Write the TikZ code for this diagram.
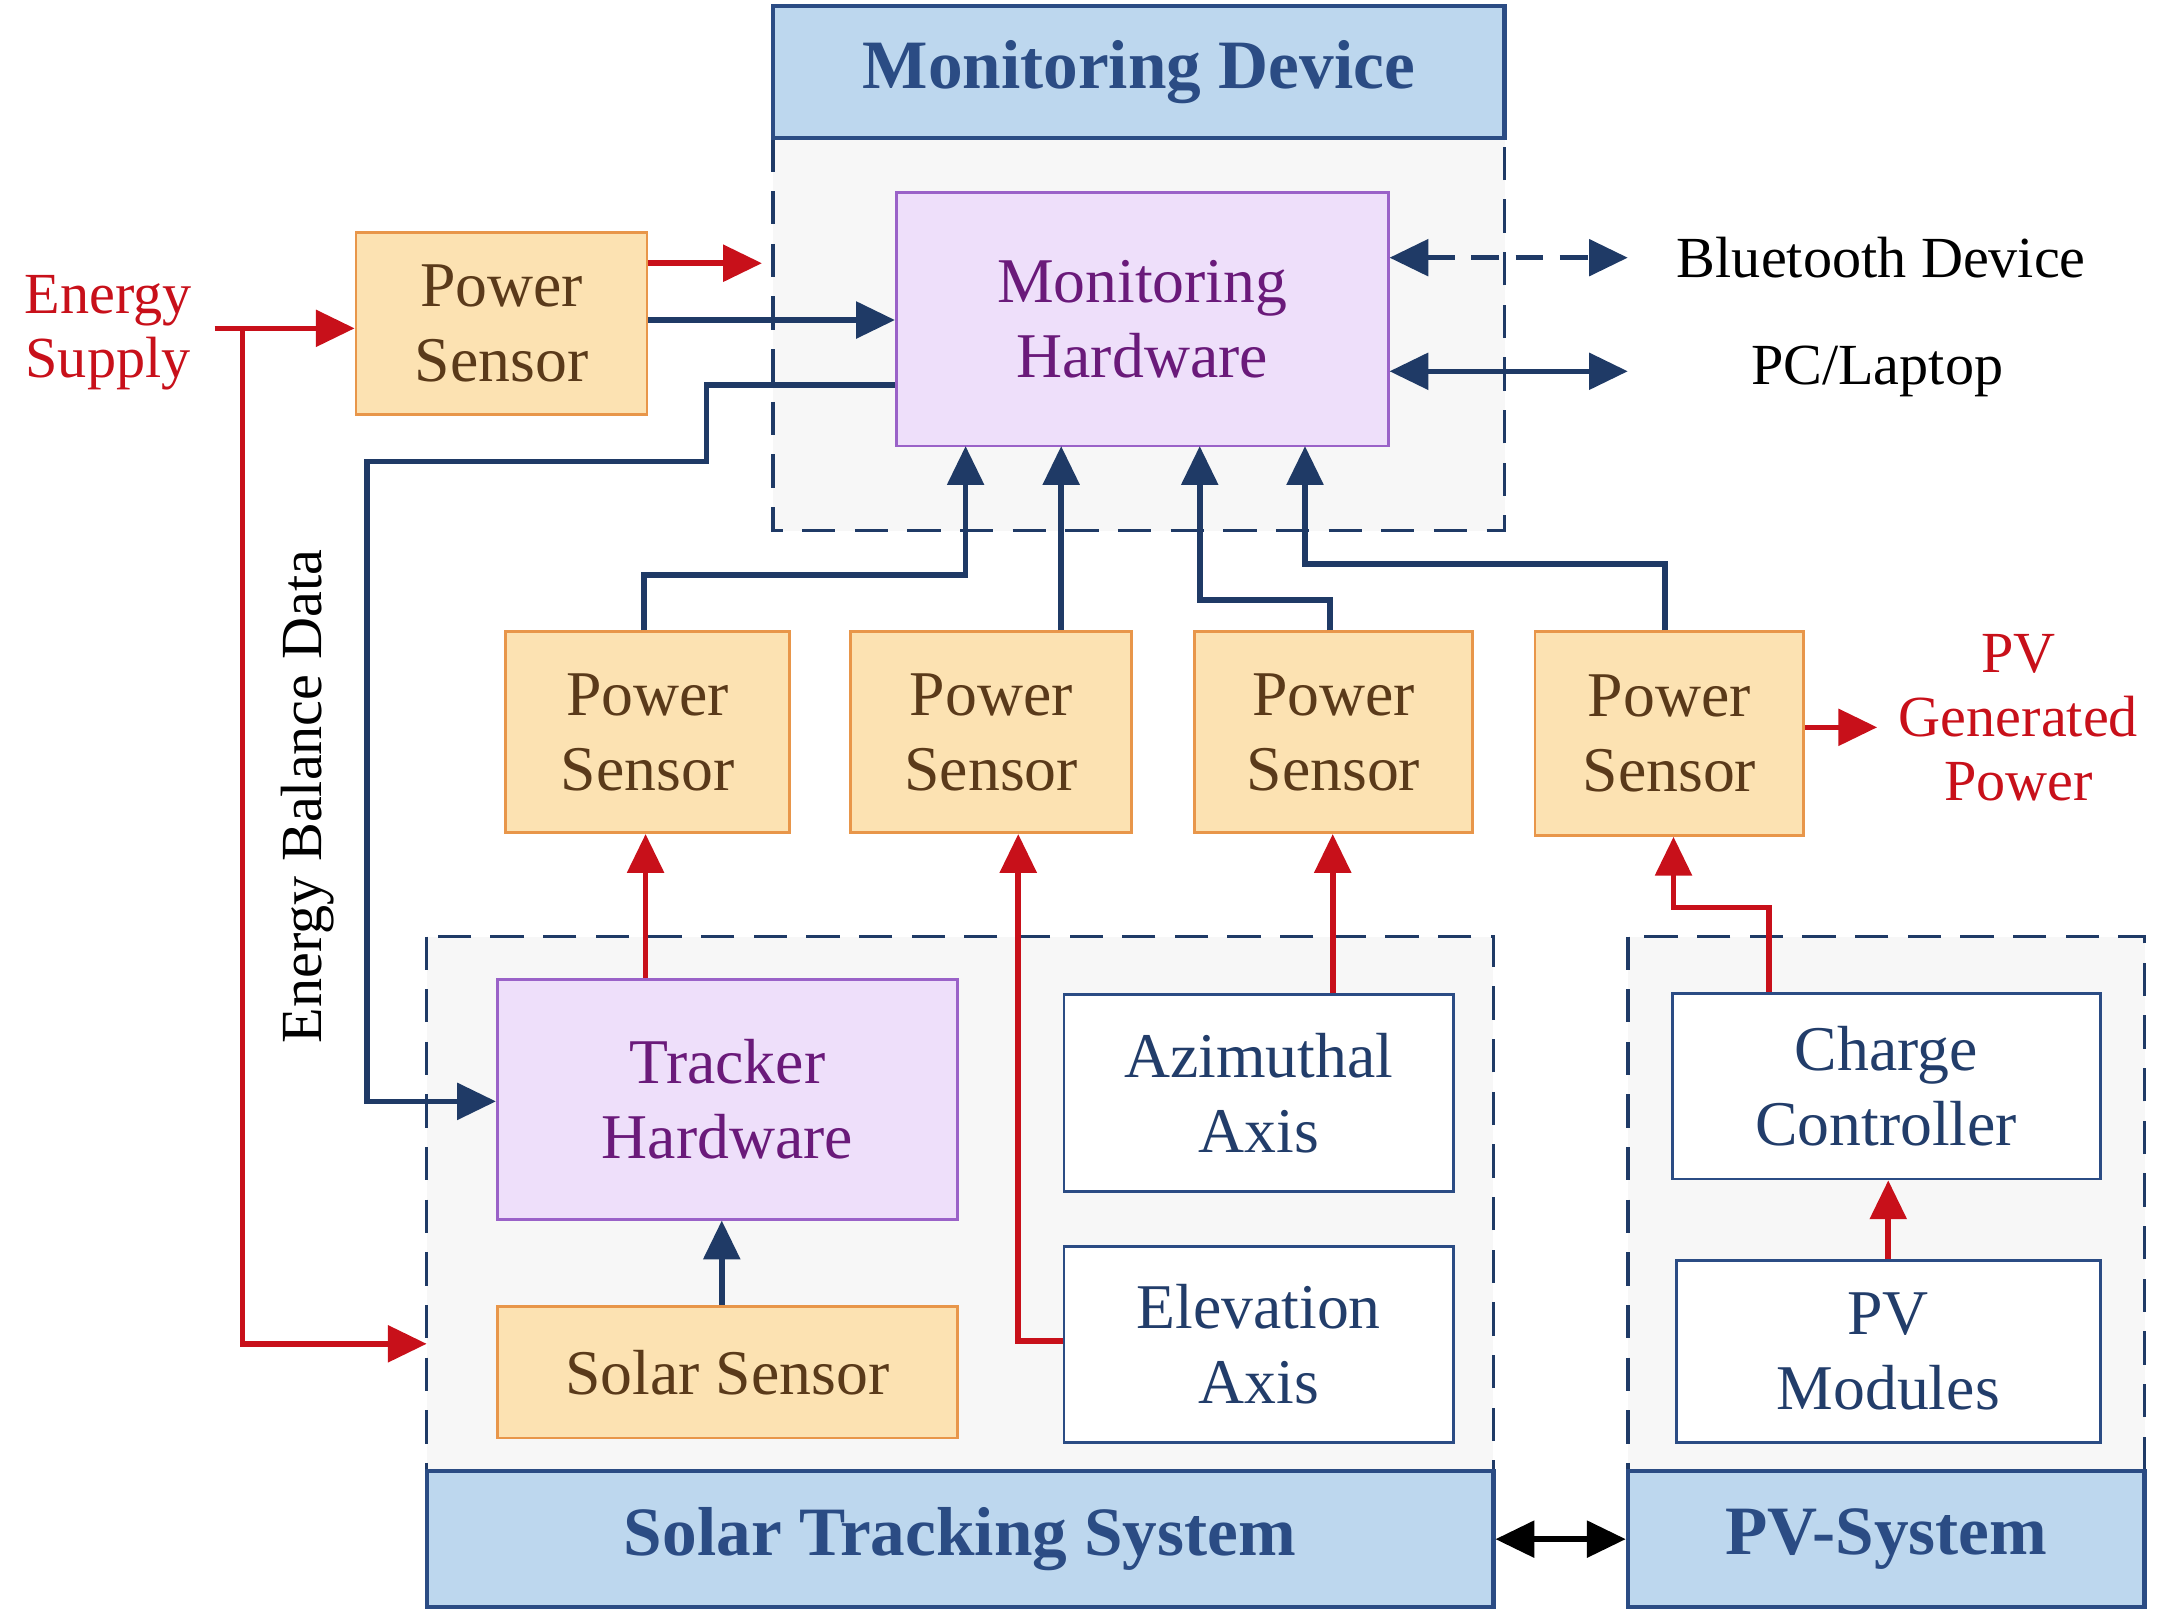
\documentclass[tikz,border=0pt]{standalone}
\usepackage{fontspec}
\setmainfont{Liberation Serif}
\usetikzlibrary{arrows.meta}
\definecolor{navy}{HTML}{1F3A66}
\definecolor{dred}{HTML}{C8101A}
\definecolor{ofill}{HTML}{FCE2B2}
\definecolor{oline}{HTML}{E8964A}
\definecolor{pfill}{HTML}{EEDFFA}
\definecolor{pline}{HTML}{9A62C8}
\definecolor{ptext}{HTML}{6A1A7A}
\definecolor{hfill}{HTML}{BDD7EE}
\definecolor{hline}{HTML}{2B4C84}
\definecolor{stext}{HTML}{5A3A1A}
\begin{document}
\begin{tikzpicture}[x=0.5pt,y=-0.5pt,
 ar/.style={line width=2pt,-{Triangle[length=14pt,width=13pt]}},
 bl/.style={ar,navy}, rd/.style={ar,dred},
 dbl/.style={line width=2pt,{Triangle[length=14pt,width=13pt]}-{Triangle[length=14pt,width=13pt]}},
 region/.style={draw=navy,line width=1.3pt,dash pattern=on 12pt off 7pt,fill=gray!6},
 head/.style={draw=hline,line width=1.5pt,fill=hfill,font=\fontsize{25}{27}\selectfont\bfseries,text=hline},
 ps/.style={draw=oline,line width=1pt,fill=ofill,font=\fontsize{23}{27}\selectfont,text=stext,align=center},
 hw/.style={draw=pline,line width=1pt,fill=pfill,font=\fontsize{23}{27}\selectfont,text=ptext,align=center},
 wb/.style={draw=hline,line width=1pt,fill=white,font=\fontsize{23}{27}\selectfont,text=hline!80!black,align=center},
 lbl/.style={font=\fontsize{21}{23}\selectfont,align=center}]
\useasboundingbox (0,0) rectangle (1557,1168);
% regions
\draw[region] (558,100) rectangle (1086,383);
\node[head,minimum width=264pt,minimum height=47.5pt] (md) at (822,52) {Monitoring Device};
\draw[region] (308,676) rectangle (1078,1062);
\node[head,minimum width=385pt,minimum height=49pt] (sts) at (693,1111) {Solar Tracking System};
\draw[region] (1175,676) rectangle (1548,1062);
\node[head,minimum width=186.5pt,minimum height=49pt] (pvs) at (1361.5,1111) {PV-System};
% boxes
\node[hw,minimum width=177.5pt,minimum height=91.5pt] (mh) at (824.5,230.5) {Monitoring\\Hardware};
\node[ps,minimum width=105pt,minimum height=65.5pt] (ps0) at (362,233.5) {Power\\Sensor};
\node[ps,minimum width=102.5pt,minimum height=72.5pt] (ps1) at (467.5,528.5) {Power\\Sensor};
\node[ps,minimum width=101.5pt,minimum height=72.5pt] (ps2) at (715.5,528.5) {Power\\Sensor};
\node[ps,minimum width=100.5pt,minimum height=72.5pt] (ps3) at (962.5,528.5) {Power\\Sensor};
\node[ps,minimum width=97pt,minimum height=73.5pt] (ps4) at (1205,529.5) {Power\\Sensor};
\node[hw,minimum width=166pt,minimum height=86.5pt] (th) at (525,793.5) {Tracker\\Hardware};
\node[ps,minimum width=166pt,minimum height=47.5pt] (ss) at (525,990.5) {Solar Sensor};
\node[wb,minimum width=140.5pt,minimum height=71pt] (az) at (908.5,789) {Azimuthal\\Axis};
\node[wb,minimum width=140.5pt,minimum height=70.5pt] (el) at (908.5,970.5) {Elevation\\Axis};
\node[wb,minimum width=154.5pt,minimum height=67pt] (cc) at (1361.5,784) {Charge\\Controller};
\node[wb,minimum width=153pt,minimum height=65.5pt] (pv) at (1363,975.5) {PV\\Modules};
% labels
\node[lbl,text=dred] (es) at (78,240) {Energy\\Supply};
\node[lbl] (bt) at (1358,186) {Bluetooth Device};
\node[lbl] (pc) at (1355,268) {PC/Laptop};
\node[lbl,text=dred] (pvg) at (1457,518) {PV\\Generated\\Power};
\node[lbl,rotate=90] (ebd) at (222,575) {Energy Balance Data};
\coordinate (esr) at (155,237);
\coordinate (ps0o) at (550,190);
% connectors
\draw[rd] (esr) -- (ps0.west|-esr);
\draw[rd] (175,237) -- (175,970) -- (308,970);
\draw[rd] (ps0.east|-ps0o) -- (ps0o);
\draw[bl] (ps0.east|-0,231) -- (mh.west|-0,231);
\draw[bl] (mh.west|-0,278) -- (510,278) -- (510,333) -- (265,333) -- (265,795) -- (th.west|-0,795);
\draw[dbl,navy,dash pattern=on 10pt off 6pt] (mh.east|-0,186) -- (1175,186);
\draw[dbl,navy] (mh.east|-0,268) -- (1175,268);
\draw[bl] (ps1.north-|465,0) -- (465,415) -- (697,415) -- (697,322);
\draw[bl] (ps2.north-|766,0) -- (766,322);
\draw[bl] (ps3.north-|960,0) -- (960,433) -- (866,433) -- (866,322);
\draw[bl] (ps4.north-|1202,0) -- (1202,407) -- (942,407) -- (942,322);
\draw[rd] (th.north-|466,0) -- (ps1.south-|466,0);
\draw[rd] (el.west|-0,968) -- (735,968) -- (ps2.south-|735,0);
\draw[rd] (az.north-|962,0) -- (ps3.south-|962,0);
\draw[rd] (cc.north-|1277,0) -- (1277,655) -- (1208,655) -- (ps4.south-|1208,0);
\draw[rd] (ps4.east|-0,525) -- (1355,525);
\draw[bl] (ss.north-|521,0) -- (th.south-|521,0);
\draw[rd] (pv.north) -- (cc.south-|pv.north);
\draw[dbl,black] (sts.east) -- (pvs.west);
\end{tikzpicture}
\end{document}
